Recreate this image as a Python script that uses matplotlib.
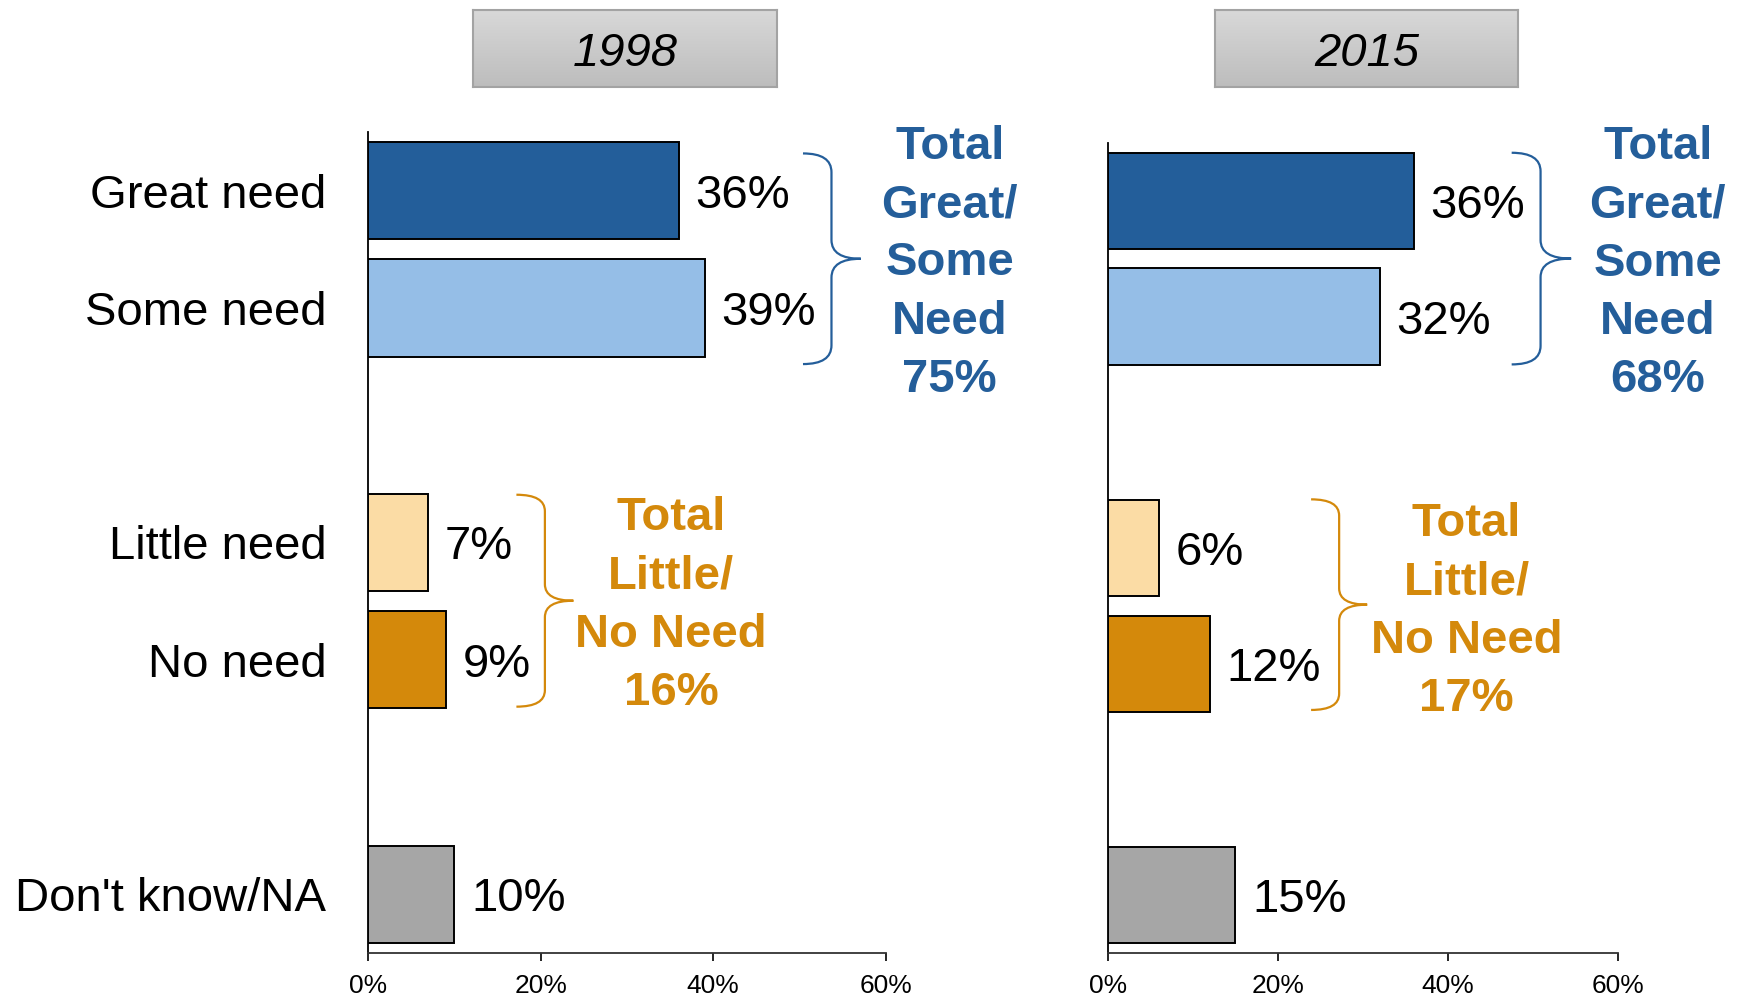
import numpy as np
from matplotlib import pyplot as plt
from matplotlib.path import Path
from matplotlib.patches import PathPatch
from matplotlib.colors import LinearSegmentedColormap

plt.rcParams['font.family'] = ['Liberation Sans', 'DejaVu Sans']

categories = ["Great need", "Some need", "Little need", "No need", "Don't know/NA"]
positions = [0, 1, 3, 4, 6]
values_1998 = [36, 39, 7, 9, 10]
values_2015 = [36, 32, 6, 12, 15]
years = ["1998", "2015"]
total_need = [75, 68]
total_no_need = [16, 17]
ticks = [0, 20, 40, 60]

bar_colors = ["#235E9A", "#95BEE7", "#FBDCA5", "#D4890B", "#A6A6A6"]
blue = "#245E9A"
orange = "#D4890B"


def brace(ax, x_tip, x_spine, x_point, y_top, y_bot, ry, color):
    y_mid = (y_top + y_bot) / 2
    verts = [(x_tip, y_top), (x_spine, y_top), (x_spine, y_top + ry),
             (x_spine, y_mid - ry), (x_spine, y_mid), (x_point, y_mid),
             (x_spine, y_mid), (x_spine, y_mid + ry),
             (x_spine, y_bot - ry), (x_spine, y_bot), (x_tip, y_bot)]
    codes = [Path.MOVETO, Path.CURVE3, Path.CURVE3, Path.LINETO,
             Path.CURVE3, Path.CURVE3, Path.CURVE3, Path.CURVE3,
             Path.LINETO, Path.CURVE3, Path.CURVE3]
    ax.add_patch(PathPatch(Path(verts, codes), fill=False, edgecolor=color,
                           lw=1.6, clip_on=False))


def draw_panel(ax, values):
    ax.barh(positions, values, height=0.83, color=bar_colors,
            edgecolor="black", linewidth=1.4, zorder=3)
    for p, v in zip(positions, values):
        ax.annotate(f"{v}%", (v, p), xytext=(12, 0), textcoords="offset points",
                    va="center_baseline", ha="left", fontsize=34)
    ax.set_xlim(0, 60)
    ax.set_ylim(6.5, -0.5)
    ax.set_xticks(ticks, [f"{t}%" for t in ticks])
    ax.tick_params(axis="x", labelsize=19, length=6, width=1.2, pad=9,
                   direction="out")
    for s in ["top", "right"]:
        ax.spines[s].set_visible(False)
    ax.spines["left"].set_linewidth(1.3)
    ax.spines["bottom"].set_linewidth(1.3)
    ax.spines["bottom"].set_color("#333333")


fig = plt.figure(figsize=(17.38, 9.96), dpi=100)
ax1 = fig.add_axes([0.2117, 0.0432, 0.2980, 0.8243])
ax2 = fig.add_axes([0.6375, 0.0432, 0.2934, 0.8133])

draw_panel(ax1, values_1998)
draw_panel(ax2, values_2015)

ax1.set_yticks(positions, categories)
ax1.tick_params(axis="y", length=0, labelsize=34, pad=30)
ax2.set_yticks([])

# braces and totals
brace(ax1, 50.4, 53.7, 57.1, -0.317, 1.479, 0.16, blue)
brace(ax1, 17.2, 20.5, 23.8, 2.593, 4.40, 0.14, orange)
brace(ax2, 47.5, 50.9, 54.5, -0.415, 1.414, 0.16, blue)
brace(ax2, 23.9, 27.2, 30.5, 2.58, 4.40, 0.14, orange)

ls = 1.42
ax1.text(67.4, 0.62, f"Total\nGreat/\nSome\nNeed\n{total_need[0]}%", color=blue,
         fontsize=34, fontweight="bold", ha="center", va="center",
         linespacing=ls, clip_on=False)
ax1.text(35.1, 3.54, f"Total\nLittle/\nNo Need\n{total_no_need[0]}%", color=orange,
         fontsize=34, fontweight="bold", ha="center", va="center",
         linespacing=ls, clip_on=False)
ax2.text(64.7, 0.545, f"Total\nGreat/\nSome\nNeed\n{total_need[1]}%", color=blue,
         fontsize=34, fontweight="bold", ha="center", va="center",
         linespacing=ls, clip_on=False)
ax2.text(42.2, 3.55, f"Total\nLittle/\nNo Need\n{total_no_need[1]}%", color=orange,
         fontsize=34, fontweight="bold", ha="center", va="center",
         linespacing=ls, clip_on=False)

# year header boxes
grad = LinearSegmentedColormap.from_list("hdr", ["#D8D8D8", "#BDBDBD"])
for left, year in zip([0.2722, 0.6988], years):
    hx = fig.add_axes([left, 0.9127, 0.1749, 0.0773])
    hx.imshow(np.linspace(0, 1, 50).reshape(-1, 1), cmap=grad, aspect="auto",
              extent=[0, 1, 0, 1])
    hx.set_xticks([])
    hx.set_yticks([])
    for s in hx.spines.values():
        s.set_color("#A3A3A3")
        s.set_linewidth(1.5)
    hx.text(0.5, 0.43, year, fontsize=34, style="italic", ha="center",
            va="center", transform=hx.transAxes)

fig.savefig("out.png", dpi=100)
